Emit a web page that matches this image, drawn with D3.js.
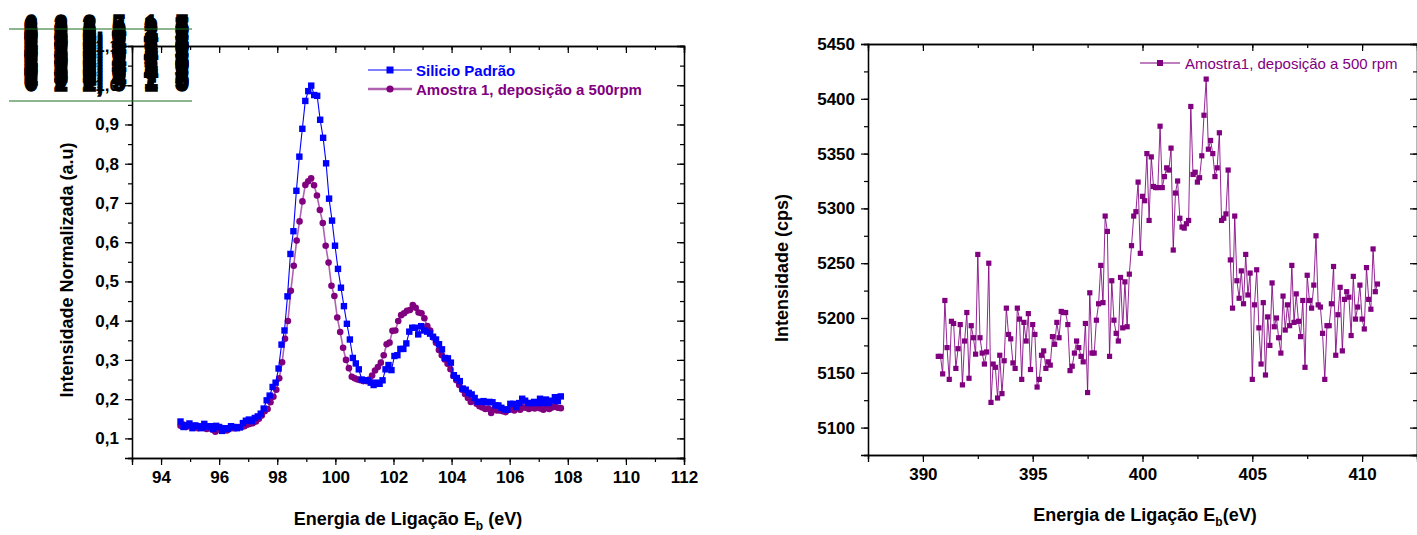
<!DOCTYPE html>
<html>
<head>
<meta charset="utf-8">
<script src="https://cdn.jsdelivr.net/npm/d3@7"></script>
<style>
  body { margin: 0; background: #fff; }
  svg { display: block; font-family: "Liberation Sans", Arial, sans-serif; }
  .tick text { font-weight: bold; font-size: 17px; fill: #000; }
  .domain { stroke: #000; stroke-width: 1.3; }
  .tick line { stroke: #000; stroke-width: 1.2; }
</style>
</head>
<body>
<svg id="chart" width="1417" height="535"></svg>
<script>
// ---- Si 2p region: reference wafer vs. sample (normalized) ----
const siEnergyRange = [94.67, 107.76];
const siValues = [
  0.143, 0.129, 0.133, 0.138, 0.126, 0.133, 0.131, 0.126, 0.137, 0.129,
  0.131, 0.124, 0.132, 0.129, 0.119, 0.126, 0.124, 0.131, 0.129, 0.126,
  0.128, 0.139, 0.145, 0.148, 0.144, 0.152, 0.156, 0.163, 0.176, 0.197,
  0.209, 0.231, 0.242, 0.278, 0.339, 0.375, 0.462, 0.570, 0.628, 0.731,
  0.818, 0.889, 0.960, 0.985, 0.999, 0.975, 0.973, 0.912, 0.866, 0.801,
  0.711, 0.655, 0.591, 0.532, 0.484, 0.437, 0.392, 0.352, 0.305, 0.291,
  0.276, 0.250, 0.248, 0.248, 0.242, 0.236, 0.242, 0.239, 0.248, 0.276,
  0.287, 0.274, 0.310, 0.312, 0.328, 0.328, 0.342, 0.372, 0.382, 0.382,
  0.365, 0.386, 0.375, 0.372, 0.367, 0.359, 0.352, 0.340, 0.327, 0.305,
  0.304, 0.293, 0.261, 0.254, 0.246, 0.227, 0.224, 0.216, 0.212, 0.203,
  0.193, 0.193, 0.195, 0.192, 0.193, 0.192, 0.184, 0.184, 0.178, 0.174,
  0.173, 0.188, 0.188, 0.180, 0.190, 0.201, 0.196, 0.190, 0.190, 0.193,
  0.190, 0.201, 0.190, 0.199, 0.190, 0.196, 0.205, 0.195, 0.207
];
const sampleEnergyRange = [94.67, 107.76];
const sampleValues = [
  0.132, 0.135, 0.129, 0.136, 0.131, 0.132, 0.126, 0.129, 0.131, 0.124,
  0.126, 0.122, 0.117, 0.124, 0.120, 0.125, 0.120, 0.126, 0.126, 0.126,
  0.129, 0.129, 0.131, 0.135, 0.137, 0.139, 0.143, 0.150, 0.158, 0.169,
  0.175, 0.192, 0.206, 0.224, 0.253, 0.294, 0.354, 0.399, 0.476, 0.540,
  0.604, 0.653, 0.704, 0.746, 0.755, 0.763, 0.745, 0.719, 0.682, 0.649,
  0.591, 0.548, 0.489, 0.463, 0.408, 0.371, 0.331, 0.300, 0.279, 0.257,
  0.253, 0.250, 0.248, 0.246, 0.246, 0.250, 0.260, 0.273, 0.282, 0.293,
  0.312, 0.340, 0.344, 0.374, 0.375, 0.399, 0.414, 0.419, 0.425, 0.427,
  0.440, 0.433, 0.421, 0.419, 0.406, 0.386, 0.375, 0.357, 0.344, 0.325,
  0.312, 0.301, 0.290, 0.276, 0.259, 0.248, 0.236, 0.224, 0.213, 0.203,
  0.193, 0.196, 0.188, 0.182, 0.179, 0.175, 0.176, 0.165, 0.175, 0.171,
  0.171, 0.169, 0.167, 0.173, 0.174, 0.171, 0.178, 0.173, 0.179, 0.178,
  0.175, 0.178, 0.176, 0.179, 0.176, 0.173, 0.178, 0.175, 0.179, 0.181,
  0.178, 0.177
];
const leftSeriesNames = ["Silicio Padrão", "Amostra 1, deposição a 500rpm"];
const leftXTicks = [94, 96, 98, 100, 102, 104, 106, 108, 110, 112];
const leftYTicks = [0.1, 0.2, 0.3, 0.4, 0.5, 0.6, 0.7, 0.8, 0.9, 1.0, 1.1];

// ---- N 1s region of the sample (counts per second) ----
const nEnergyStart = 390.7;
const nEnergyStep = 0.1;
const nCounts = [
  5165, 5165, 5149, 5216, 5173, 5144, 5197, 5195, 5154, 5172,
  5194, 5139, 5179, 5205, 5145, 5193, 5182, 5167, 5258, 5182,
  5168, 5158, 5169, 5250, 5123, 5158, 5155, 5127, 5166, 5131,
  5161, 5209, 5185, 5181, 5159, 5154, 5209, 5199, 5144, 5196,
  5179, 5204, 5153, 5194, 5185, 5137, 5144, 5166, 5170, 5154,
  5160, 5157, 5183, 5176, 5196, 5182, 5206, 5205, 5205, 5194,
  5152, 5156, 5168, 5179, 5173, 5165, 5160, 5195, 5132, 5223,
  5168, 5168, 5198, 5213, 5248, 5214, 5293, 5279, 5165, 5234,
  5198, 5186, 5179, 5237, 5191, 5233, 5192, 5240, 5266, 5293,
  5297, 5324, 5259, 5311, 5307, 5350, 5289, 5347, 5320, 5319,
  5319, 5375, 5319, 5329, 5337, 5335, 5355, 5262, 5314, 5325,
  5291, 5283, 5282, 5286, 5289, 5393, 5331, 5333, 5324, 5328,
  5348, 5385, 5418, 5354, 5362, 5350, 5329, 5337, 5369, 5289,
  5291, 5295, 5335, 5253, 5209, 5293, 5234, 5218, 5243, 5213,
  5258, 5221, 5241, 5144, 5212, 5244, 5191, 5158, 5214, 5148,
  5201, 5175, 5232, 5192, 5200, 5182, 5168, 5220, 5189, 5212,
  5193, 5248, 5196, 5222, 5197, 5183, 5216, 5155, 5239, 5216,
  5209, 5230, 5275, 5212, 5210, 5186, 5144, 5193, 5193, 5213,
  5247, 5166, 5203, 5228, 5170, 5217, 5224, 5219, 5184, 5238,
  5199, 5210, 5230, 5199, 5190, 5246, 5217, 5208, 5263, 5224,
  5231
];
const rightSeriesName = "Amostra1, deposição a 500 rpm";
const rightXTicks = [390, 395, 400, 405, 410];
const rightYTicks = [5100, 5150, 5200, 5250, 5300, 5350, 5400, 5450];

// overprinted labels piled up in the upper-left corner, by column
const stackedGlyphColumns = [
  ["6", "8", "5", "0", "1", "9"],
  ["2", "0", "3", "2", "5", "0"],
  ["2,", "1,", "0,", "2,", "1,", "0,"],
  ["5", "4", "8", "6", "9", "4"],
  ["1", "2", "3", "4", "7", "1"],
  ["5", "7", "3", "2", "7", "5"]
];

const svg = d3.select("#chart");
const BLUE = "#0000ff", PURPLE = "#800080", PURPLE_LINE = "#b062b0";

function spread(range, n) {
  const step = (range[1] - range[0]) / (n - 1);
  return d3.range(n).map(i => range[0] + i * step);
}

function frame(g, x, y, box, major, minor, yMajor, yMinor, fmtX, fmtY) {
  // bottom: outward ticks with labels
  g.append("g").attr("transform", `translate(0,${box.bottom})`)
    .call(d3.axisBottom(x).tickValues(minor).tickSize(4).tickFormat(""));
  g.append("g").attr("transform", `translate(0,${box.bottom})`)
    .call(d3.axisBottom(x).tickValues(major).tickSize(7).tickPadding(6).tickFormat(fmtX));
  // top: inward ticks
  g.append("g").attr("transform", `translate(0,${box.top})`)
    .call(d3.axisBottom(x).tickValues(minor).tickSize(4).tickFormat(""));
  g.append("g").attr("transform", `translate(0,${box.top})`)
    .call(d3.axisBottom(x).tickValues(major).tickSize(7).tickFormat(""));
  // left: outward ticks with labels
  g.append("g").attr("transform", `translate(${box.left},0)`)
    .call(d3.axisLeft(y).tickValues(yMinor).tickSize(4).tickFormat(""));
  g.append("g").attr("transform", `translate(${box.left},0)`)
    .call(d3.axisLeft(y).tickValues(yMajor).tickSize(7).tickPadding(6).tickFormat(fmtY));
  // right: inward ticks
  g.append("g").attr("transform", `translate(${box.right},0)`)
    .call(d3.axisLeft(y).tickValues(yMinor).tickSize(4).tickFormat(""));
  g.append("g").attr("transform", `translate(${box.right},0)`)
    .call(d3.axisLeft(y).tickValues(yMajor).tickSize(7).tickFormat(""));
  g.selectAll(".domain").attr("stroke", "#000");
  g.selectAll(".tick line").attr("stroke", "#000");
}

// ================= Left panel =================
{
  const box = { left: 132, right: 684, top: 46, bottom: 458 };
  const x = d3.scaleLinear([93, 112], [box.left, box.right]);
  const y = d3.scaleLinear([0.05, 1.1], [box.bottom, box.top]);
  const g = svg.append("g");

  const minorX = d3.range(93, 112.01, 1);
  const minorY = d3.range(0.05, 1.101, 0.05);
  const comma = d => d3.format(".1f")(d).replace(".", ",");
  frame(g, x, y, box, leftXTicks, minorX, leftYTicks, minorY, d3.format("d"), comma);

  const siPts = spread(siEnergyRange, siValues.length).map((e, i) => [e, siValues[i]]);
  const smPts = spread(sampleEnergyRange, sampleValues.length).map((e, i) => [e, sampleValues[i]]);
  const line = d3.line().x(d => x(d[0])).y(d => y(d[1]));

  // sample (purple circles)
  g.append("path").datum(smPts).attr("d", line)
    .attr("fill", "none").attr("stroke", PURPLE_LINE).attr("stroke-width", 1.6);
  g.append("g").selectAll("circle").data(smPts).join("circle")
    .attr("cx", d => x(d[0])).attr("cy", d => y(d[1])).attr("r", 3.3)
    .attr("fill", PURPLE);

  // reference wafer (blue squares)
  g.append("path").datum(siPts).attr("d", line)
    .attr("fill", "none").attr("stroke", BLUE).attr("stroke-width", 1.1);
  g.append("g").selectAll("rect").data(siPts).join("rect")
    .attr("x", d => x(d[0]) - 3.2).attr("y", d => y(d[1]) - 3.2)
    .attr("width", 6.4).attr("height", 6.4).attr("fill", BLUE);

  // legend
  const lg = g.append("g").attr("font-weight", "bold").attr("font-size", 15);
  lg.append("line").attr("x1", 368).attr("x2", 412).attr("y1", 70).attr("y2", 70)
    .attr("stroke", BLUE).attr("stroke-width", 1.2);
  lg.append("rect").attr("x", 386.5).attr("y", 66.5).attr("width", 7).attr("height", 7).attr("fill", BLUE);
  lg.append("text").attr("x", 416).attr("y", 75.5).attr("fill", BLUE).text(leftSeriesNames[0]);
  lg.append("line").attr("x1", 368).attr("x2", 412).attr("y1", 89).attr("y2", 89)
    .attr("stroke", PURPLE_LINE).attr("stroke-width", 2.5);
  lg.append("circle").attr("cx", 390).attr("cy", 89).attr("r", 3.6).attr("fill", PURPLE);
  lg.append("text").attr("x", 416).attr("y", 94.5).attr("fill", PURPLE).text(leftSeriesNames[1]);

  // axis titles
  g.append("text").attr("transform", "translate(73,270) rotate(-90)")
    .attr("text-anchor", "middle").attr("font-weight", "bold").attr("font-size", 18)
    .text("Intensidade Normalizada (a.u)");
  const xt = g.append("text").attr("x", 408).attr("y", 525)
    .attr("text-anchor", "middle").attr("font-weight", "bold").attr("font-size", 18);
  xt.append("tspan").text("Energia de Ligação E");
  xt.append("tspan").attr("dy", 5).attr("font-size", 12).text("b");
  xt.append("tspan").attr("dy", -5).text(" (eV)");

  // overprinted label pile in the corner
  const pile = g.append("g").attr("font-weight", "bold").attr("font-size", 32)
    .attr("text-anchor", "middle").attr("fill", "#000")
    .attr("stroke", "#000").attr("stroke-width", 1.4);
  const colX = [31, 61, 93, 119, 151, 182];
  stackedGlyphColumns.forEach((col, ci) => {
    d3.range(0, 57, 3).forEach((dy, k) => {
      const yy = 37 + dy;
      pile.append("text")
        .attr("transform", `translate(${colX[ci]},${yy}) scale(0.78,1)`)
        .text(col[k % col.length]);
    });
  });
  [29, 101].forEach(yy => g.append("line").attr("x1", 9).attr("x2", 192)
    .attr("y1", yy).attr("y2", yy).attr("stroke", "#1e6e1e").attr("stroke-width", 1.2));
}

// ================= Right panel =================
{
  const box = { left: 868, right: 1417, top: 44, bottom: 455 };
  const x = d3.scaleLinear([387.5, 412.5], [box.left, box.right]);
  const y = d3.scaleLinear([5075, 5450], [box.bottom, box.top]);
  const g = svg.append("g");

  const minorX = d3.range(387.5, 412.6, 2.5);
  const minorY = d3.range(5075, 5451, 25);
  frame(g, x, y, box, rightXTicks, minorX, rightYTicks, minorY, d3.format("d"), d3.format("d"));

  const pts = nCounts.map((v, i) => [nEnergyStart + i * nEnergyStep, v]);
  const line = d3.line().x(d => x(d[0])).y(d => y(d[1]));
  g.append("path").datum(pts).attr("d", line)
    .attr("fill", "none").attr("stroke", PURPLE).attr("stroke-width", 1).attr("stroke-opacity", 0.85);
  g.append("g").selectAll("rect").data(pts).join("rect")
    .attr("x", d => x(d[0]) - 2.6).attr("y", d => y(d[1]) - 2.6)
    .attr("width", 5.2).attr("height", 5.2).attr("fill", PURPLE);

  // legend
  g.append("line").attr("x1", 1140).attr("x2", 1180).attr("y1", 63).attr("y2", 63)
    .attr("stroke", PURPLE).attr("stroke-width", 1.2);
  g.append("rect").attr("x", 1157).attr("y", 60).attr("width", 6).attr("height", 6).attr("fill", PURPLE);
  g.append("text").attr("x", 1185).attr("y", 68.5).attr("fill", PURPLE).attr("font-size", 15)
    .text(rightSeriesName);

  // axis titles
  g.append("text").attr("transform", "translate(788,268) rotate(-90)")
    .attr("text-anchor", "middle").attr("font-weight", "bold").attr("font-size", 18)
    .text("Intensidade (cps)");
  const xt = g.append("text").attr("x", 1145).attr("y", 521)
    .attr("text-anchor", "middle").attr("font-weight", "bold").attr("font-size", 18);
  xt.append("tspan").text("Energia de Ligação E");
  xt.append("tspan").attr("dy", 5).attr("font-size", 12).text("b");
  xt.append("tspan").attr("dy", -5).text("(eV)");
}
</script>
</body>
</html>
